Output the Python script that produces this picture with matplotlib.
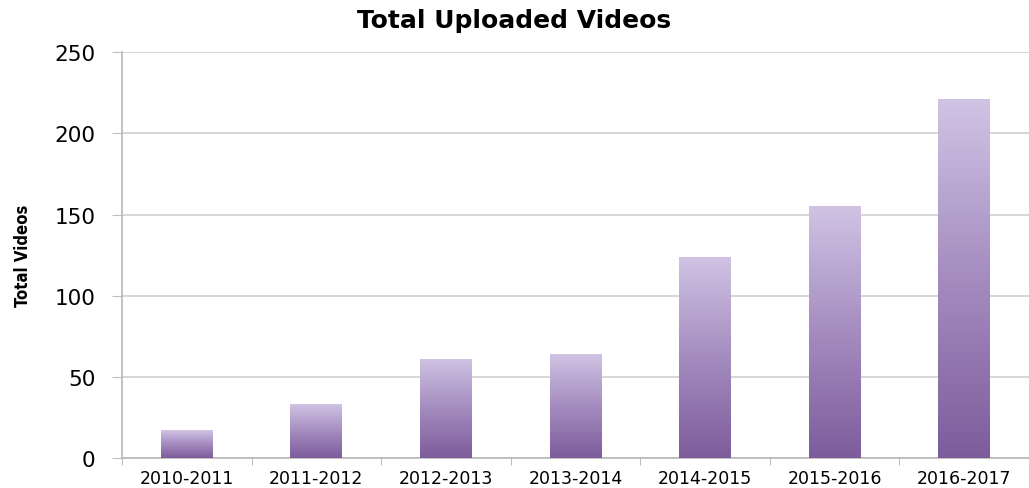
import numpy as np
import matplotlib
matplotlib.use("Agg")
from matplotlib import pyplot as plt
from matplotlib.colors import LinearSegmentedColormap

# data
periods = ["2010-2011", "2011-2012", "2012-2013", "2013-2014",
           "2014-2015", "2015-2016", "2016-2017"]
videos = [17, 33, 61, 64, 124, 155, 221]
yticks = [0, 50, 100, 150, 200, 250]

grad = LinearSegmentedColormap.from_list("purp", ["#7d5c9c", "#a48cbf", "#d0c3e4"])

fig = plt.figure(figsize=(10.29, 4.89), dpi=100)
ax = fig.add_axes([0.1186, 0.0613, 0.8814, 0.830])

x = np.arange(len(periods))
bars = ax.bar(x, videos, width=0.40, color="none", edgecolor="none", zorder=3)

ramp = np.linspace(0, 1, 256).reshape(-1, 1)
for b in bars:
    x0, w, h = b.get_x(), b.get_width(), b.get_height()
    im = ax.imshow(ramp, cmap=grad, origin="lower", aspect="auto",
                   extent=[x0, x0 + w, 0, h], zorder=3)
    im.set_clip_path(b)

ax.set_xlim(-0.5, 6.42)
ax.set_ylim(0, 250)
ax.set_yticks(yticks)
ax.set_xticks(x)
ax.set_xticklabels(periods, fontsize=12.5)
ax.set_xticks(np.arange(-0.5, 7, 1), minor=True)
ax.tick_params(axis="x", which="major", length=0, pad=8)
ax.tick_params(axis="x", which="minor", length=5, color="#b0b0b0")
ax.tick_params(axis="y", length=7, color="#c0c0c0", labelsize=15.5, pad=12)

ax.grid(axis="y", color="#cfcfcf", linewidth=1.2, zorder=0)
for s in ["top", "right"]:
    ax.spines[s].set_visible(False)
for s in ["left", "bottom"]:
    ax.spines[s].set_color("#b8b8b8")
    ax.spines[s].set_linewidth(1.2)

ax.set_ylabel("Total Videos", fontsize=12, fontweight="bold",
              fontstretch="condensed", labelpad=16)
fig.text(0.5, 0.957, "Total Uploaded Videos", ha="center", va="center",
         fontsize=18, fontweight="bold")

fig.savefig("out.png", dpi=100)
